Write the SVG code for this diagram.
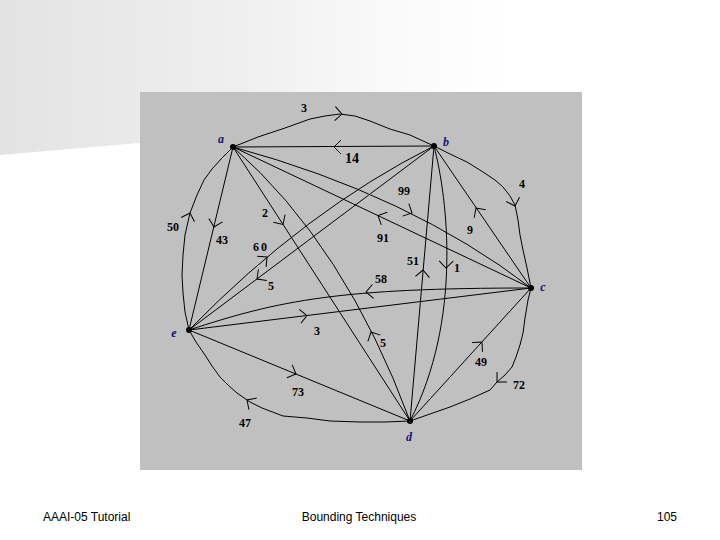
<svg xmlns="http://www.w3.org/2000/svg" width="720" height="540" viewBox="0 0 720 540">
<defs>
<linearGradient id="bg" x1="0" y1="0" x2="720" y2="0" gradientUnits="userSpaceOnUse">
<stop offset="0" stop-color="#e3e3e3"/>
<stop offset="0.33" stop-color="#efefef"/>
<stop offset="0.55" stop-color="#fafafa"/>
<stop offset="0.7" stop-color="#ffffff"/>
</linearGradient>
<path id="ah" d="M-7,-7 L0,0 L-7,7" fill="none" stroke="#000" stroke-width="1"/>
</defs>
<style>
.e{fill:none;stroke:#000;stroke-width:1;stroke-linejoin:round}
.w{font-family:"Liberation Serif",serif;font-size:12px;font-weight:bold;fill:#000;text-anchor:middle}
.n{font-family:"Liberation Serif",serif;font-size:12px;font-weight:bold;font-style:italic;fill:#12127e;text-anchor:middle}
.f{font-family:"Liberation Sans",sans-serif;font-size:12px;fill:#000}
.dot{fill:#000}
</style>
<rect x="0" y="0" width="720" height="540" fill="#ffffff"/>
<polygon points="0,0 720,0 720,93 0,155" fill="url(#bg)"/>
<rect x="140" y="92" width="442" height="378" fill="#c0c0c0"/>

<g id="connectors">
  <g id="e-ab-3">
    <path class="e" d="M233,147 L258,137 L285,128 L310,119 L325,116 L340,114 L355,116 L370,121 L390,129 L410,135 L434,146"/>
    <use href="#ah" transform="translate(342,114) rotate(3)"/>
    <text class="w" x="304" y="112">3</text>
  </g>
  <g id="e-ba-14">
    <path class="e" d="M233,147 L434,146"/>
    <use href="#ah" transform="translate(334,147) rotate(180)"/>
    <text class="w" x="352" y="163" style="font-size:14px">14</text>
  </g>
  <g id="e-bc-4">
    <path class="e" d="M434,146 L450,154 L467,162 L483,172 L495,180 L503,187 L510,196 L515,205 L518,220 L520,235 L523,250 L527,268 L531,288"/>
    <use href="#ah" transform="translate(515,206) rotate(72)"/>
    <text class="w" x="522" y="188">4</text>
  </g>
  <g id="e-cb-9">
    <path class="e" d="M531,288 L434,146"/>
    <use href="#ah" transform="translate(476,208) rotate(-124.3)"/>
    <text class="w" x="470" y="234">9</text>
  </g>
  <g id="e-cd-72">
    <path class="e" d="M531,288 L528,300 L525,318 L523,333 L520,345 L516,357 L512,367 L505,375 L497,382 L490,390 L470,399 L450,407 L430,414 L410,421"/>
    <use href="#ah" transform="translate(497,382) rotate(135)"/>
    <text class="w" x="519" y="389">72</text>
  </g>
  <g id="e-dc-49">
    <path class="e" d="M410,421 L531,288"/>
    <use href="#ah" transform="translate(482,342) rotate(-47.7)"/>
    <text class="w" x="481" y="366">49</text>
  </g>
  <g id="e-de-47">
    <path class="e" d="M410,421 L385,422 L360,422 L330,421 L307,418 L283,416 L262,408 L250,402 L237,393 L228,385 L220,377 L212,366 L205,355 L196,342 L189,330"/>
    <use href="#ah" transform="translate(247,400) rotate(-146)"/>
    <text class="w" x="245" y="427">47</text>
  </g>
  <g id="e-ed-73">
    <path class="e" d="M189,330 L410,421"/>
    <use href="#ah" transform="translate(296,374) rotate(22.4)"/>
    <text class="w" x="298" y="396">73</text>
  </g>
  <g id="e-ea-50">
    <path class="e" d="M189,330 L185,312 L183,293 L182,275 L183,255 L185,235 L190,213 L197,195 L204,180 L212,169 L222,158 L233,147"/>
    <use href="#ah" transform="translate(190,213) rotate(-72)"/>
    <text class="w" x="173" y="231">50</text>
  </g>
  <g id="e-ae-43">
    <path class="e" d="M233,147 L189,330"/>
    <use href="#ah" transform="translate(214,227) rotate(103.5)"/>
    <text class="w" x="222" y="244">43</text>
  </g>
  <g id="e-ac-99">
    <path class="e" d="M233,147 Q410,195 531,288"/>
    <use href="#ah" transform="translate(412,213) rotate(26.5)"/>
    <text class="w" x="404" y="195">99</text>
  </g>
  <g id="e-ca-91">
    <path class="e" d="M531,288 L233,147"/>
    <use href="#ah" transform="translate(378,215.6) rotate(-154.7)"/>
    <text class="w" x="383" y="242">91</text>
  </g>
  <g id="e-ad-2">
    <path class="e" d="M233,147 L410,421"/>
    <use href="#ah" transform="translate(283,224.4) rotate(57.1)"/>
    <text class="w" x="265" y="217">2</text>
  </g>
  <g id="e-da-5">
    <path class="e" d="M410,421 Q345,245 233,147"/>
    <use href="#ah" transform="translate(371,332) rotate(-116.6)"/>
    <text class="w" x="383" y="347">5</text>
  </g>
  <g id="e-eb-60">
    <path class="e" d="M189,330 Q306,210 434,146"/>
    <use href="#ah" transform="translate(267,257) rotate(-40)"/>
    <text class="w" x="261" y="251" style="letter-spacing:2px">60</text>
  </g>
  <g id="e-be-5">
    <path class="e" d="M434,146 L189,330"/>
    <use href="#ah" transform="translate(257,279) rotate(143.1)"/>
    <text class="w" x="271" y="290">5</text>
  </g>
  <g id="e-db-51">
    <path class="e" d="M410,421 L434,146"/>
    <use href="#ah" transform="translate(423,270) rotate(-85)"/>
    <text class="w" x="413" y="265">51</text>
  </g>
  <g id="e-bd-1">
    <path class="e" d="M434,146 C448,200 462,320 410,421"/>
    <use href="#ah" transform="translate(446,268) rotate(91.5)"/>
    <text class="w" x="457" y="272">1</text>
  </g>
  <g id="e-ce-58">
    <path class="e" d="M531,288 C340,288 280,300 189,330"/>
    <use href="#ah" transform="translate(366,292) rotate(175.4)"/>
    <text class="w" x="381" y="283">58</text>
  </g>
  <g id="e-ec-3">
    <path class="e" d="M189,330 L531,288"/>
    <use href="#ah" transform="translate(307,315.5) rotate(-7)"/>
    <text class="w" x="317" y="335">3</text>
  </g>
</g>

<g id="node-a"><circle class="dot" cx="233" cy="147" r="3"/><text class="n" x="221" y="143">a</text></g>
<g id="node-b"><circle class="dot" cx="434" cy="146" r="3"/><text class="n" x="446" y="146">b</text></g>
<g id="node-c"><circle class="dot" cx="531" cy="288" r="3"/><text class="n" x="543" y="291">c</text></g>
<g id="node-d"><circle class="dot" cx="410" cy="421" r="3"/><text class="n" x="409" y="441">d</text></g>
<g id="node-e"><circle class="dot" cx="189" cy="330" r="3"/><text class="n" x="174" y="337">e</text></g>

<g id="footer">
  <text class="f" x="43" y="521">AAAI-05 Tutorial</text>
  <text class="f" x="359" y="521" text-anchor="middle">Bounding Techniques</text>
  <text class="f" x="677" y="521" text-anchor="end">105</text>
</g>
</svg>
